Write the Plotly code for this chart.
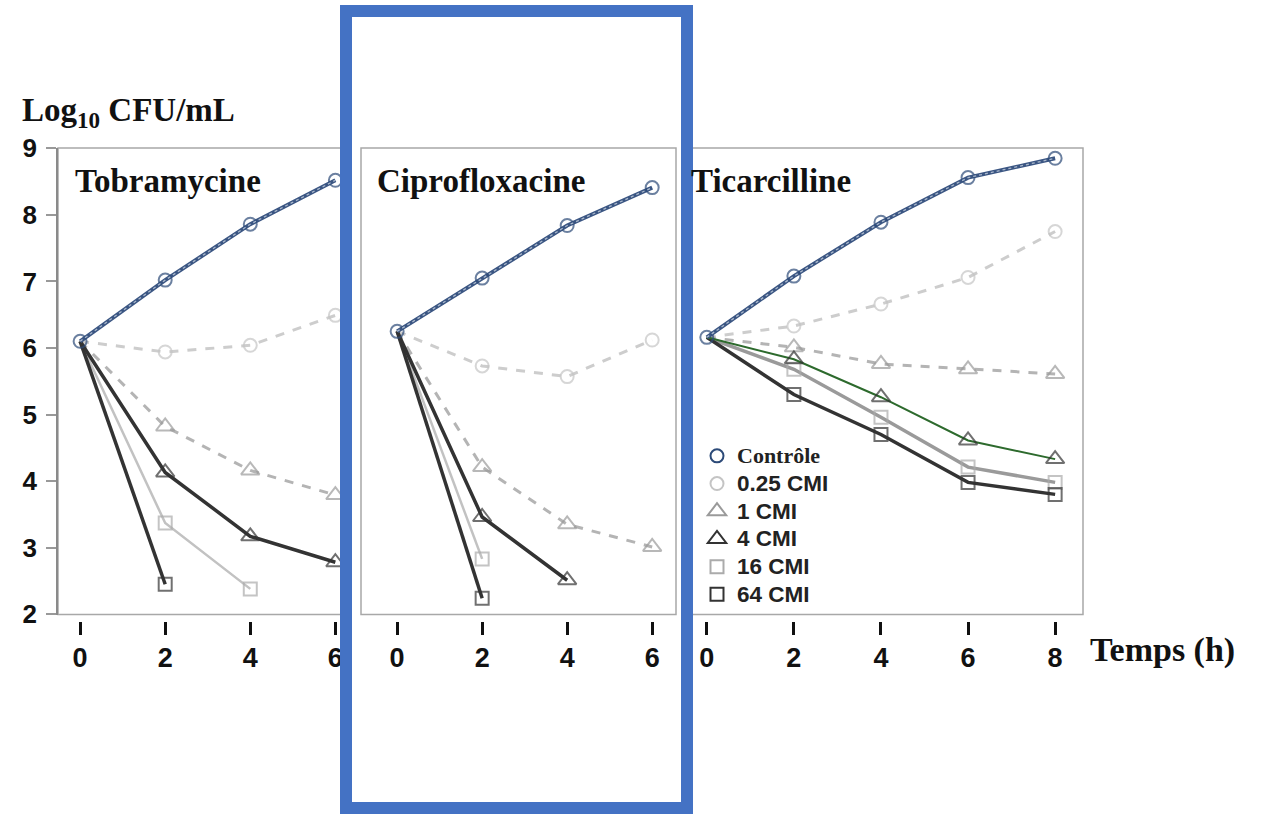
import plotly.graph_objects as go

W, H = 1263, 814

# ---------------- data ----------------
series_names = ["Contrôle", "0.25 CMI", "1 CMI", "4 CMI", "16 CMI", "64 CMI"]
panel_titles = ["Tobramycine", "Ciprofloxacine", "Ticarcilline"]

tobra_t = [0, 2, 4, 6]
tobra = {
    "Contrôle": [6.10, 7.02, 7.86, 8.52],
    "0.25 CMI": [6.10, 5.94, 6.04, 6.49],
    "1 CMI":    [6.10, 4.82, 4.16, 3.79],
    "4 CMI":    [6.10, 4.13, 3.17, 2.78],
    "16 CMI":   [6.10, 3.37, 2.38],
    "64 CMI":   [6.10, 2.45],
}

cipro_t = [0, 2, 4, 6]
cipro = {
    "Contrôle": [6.25, 7.05, 7.84, 8.41],
    "0.25 CMI": [6.25, 5.73, 5.57, 6.12],
    "1 CMI":    [6.25, 4.21, 3.35, 3.01],
    "4 CMI":    [6.25, 3.46, 2.51],
    "16 CMI":   [6.25, 2.83],
    "64 CMI":   [6.25, 2.24],
}

ticar_t = [0, 2, 4, 6, 8]
ticar = {
    "Contrôle": [6.16, 7.08, 7.89, 8.56, 8.85],
    "0.25 CMI": [6.16, 6.33, 6.66, 7.06, 7.75],
    "1 CMI":    [6.16, 6.01, 5.76, 5.68, 5.61],
    "4 CMI":    [6.16, 5.83, 5.26, 4.61, 4.33],
    "16 CMI":   [6.16, 5.68, 4.96, 4.21, 3.98],
    "64 CMI":   [6.16, 5.30, 4.70, 3.98, 3.80],
}

y_ticks = [2, 3, 4, 5, 6, 7, 8, 9]
x_ticks_short = [0, 2, 4, 6]
x_ticks_long = [0, 2, 4, 6, 8]

# ---------------- styles ----------------
base_style = {
    "Contrôle": dict(lc="#3b5683", lw=4, dash="solid", sym="circle-open", mc="#2c4a78", ms=13),
    "0.25 CMI": dict(lc="#cdcdcd", lw=3, dash="dash", sym="circle-open", mc="#c4c4c4", ms=13),
    "1 CMI":    dict(lc="#b4b4b4", lw=3, dash="dash", sym="triangle-up-open", mc="#9a9a9a", ms=16),
    "4 CMI":    dict(lc="#333333", lw=3.5, dash="solid", sym="triangle-up-open", mc="#333333", ms=16),
    "16 CMI":   dict(lc="#c2c2c2", lw=2.5, dash="solid", sym="square-open", mc="#ababab", ms=13),
    "64 CMI":   dict(lc="#333333", lw=3.5, dash="solid", sym="square-open", mc="#333333", ms=13),
}
ticar_over = {
    "4 CMI": dict(lc="#2d6a2d", lw=2),
    "16 CMI": dict(lc="#9a9a9a", lw=3.5),
}

def px_x(p):
    return p / W

def px_y(p):
    return 1 - p / H

ydom = [px_y(614.5), px_y(148)]
yrange = [1.995, 9.005]

panels = [
    dict(t=tobra_t, d=tobra, xa="x", ya="y", dom=[px_x(58), px_x(346)], rng=[-0.52, 6.25], ticks=x_ticks_short, over={}),
    dict(t=cipro_t, d=cipro, xa="x2", ya="y2", dom=[px_x(361), px_x(676)], rng=[-0.85, 6.56], ticks=x_ticks_short, over={}),
    dict(t=ticar_t, d=ticar, xa="x3", ya="y3", dom=[px_x(692), px_x(1083)], rng=[-0.34, 8.64], ticks=x_ticks_long, over=ticar_over),
]

fig = go.Figure()

draw_order = ["0.25 CMI", "1 CMI", "16 CMI", "64 CMI", "4 CMI", "Contrôle"]
for p in panels:
    for name in draw_order:
        vals = p["d"][name]
        st = dict(base_style[name])
        st.update(p["over"].get(name, {}))
        n = len(vals)
        sizes = [st["ms"]] * n
        if name != "Contrôle":
            sizes[0] = 0
        fig.add_trace(go.Scatter(
            x=p["t"][:n], y=vals, mode="lines+markers",
            xaxis=p["xa"], yaxis=p["ya"], showlegend=False,
            line=dict(color=st["lc"], width=st["lw"], dash=st["dash"]),
            marker=dict(symbol=st["sym"], size=sizes, color=st["mc"],
                        line=dict(color=st["mc"], width=2)),
            hoverinfo="skip",
        ))
        if name == "Contrôle":
            # light dotted core giving the textured double-line look
            fig.add_trace(go.Scatter(
                x=p["t"][:n], y=vals, mode="lines",
                xaxis=p["xa"], yaxis=p["ya"], showlegend=False,
                line=dict(color="#aab8cc", width=1.3, dash="dot"),
                hoverinfo="skip",
            ))

# legend entries (marker only)
for name in series_names:
    st = base_style[name]
    if name == "Contrôle":
        label = ('<span style="font-family:\'Liberation Serif\', \'Times New Roman\', serif;'
                 'font-size:22px"><b>Contrôle</b></span>')
    else:
        label = f'<span style="font-size:22.5px"><b>{name}</b></span>'
    fig.add_trace(go.Scatter(
        x=[None], y=[None], mode="markers", xaxis="x3", yaxis="y3",
        name=label,
        marker=dict(symbol=st["sym"], size=st["ms"], color=st["mc"],
                    line=dict(color=st["mc"], width=2)),
    ))

tick_font = dict(family="Liberation Sans, Arial, sans-serif", size=27, color="#111")
layout = dict(
    width=W, height=H, margin=dict(l=0, r=0, t=0, b=0, autoexpand=False),
    paper_bgcolor="white", plot_bgcolor="white",
    showlegend=True,
    legend=dict(x=px_x(697), y=px_y(437), xanchor="left", yanchor="top",
                bgcolor="rgba(0,0,0,0)", borderwidth=0,
                font=dict(family="Liberation Sans, Arial, sans-serif", size=19, color="#222"),
                itemwidth=30, tracegroupgap=0),
)

for i, p in enumerate(panels):
    sfx = "" if i == 0 else str(i + 1)
    layout["xaxis" + sfx] = dict(
        domain=p["dom"], range=p["rng"], anchor="free", position=px_y(621),
        showline=False, showgrid=False, zeroline=False, automargin=False,
        tickmode="array", tickvals=p["ticks"], ticktext=[f"<b>{v}</b>" for v in p["ticks"]],
        ticks="outside", ticklen=13, tickwidth=3, tickcolor="#111",
        tickfont=tick_font, ticklabelstandoff=0,
    )
    layout["yaxis" + sfx] = dict(
        domain=ydom, range=yrange, anchor=p["xa"], automargin=False,
        showgrid=False, zeroline=False,
        showline=(i == 0), linecolor="#8a8a8a", linewidth=1.5,
        tickmode="array", tickvals=y_ticks,
        ticktext=[f"<b>{v}</b>" for v in y_ticks],
        ticks="outside" if i == 0 else "", ticklen=10, tickwidth=1.5, tickcolor="#999",
        showticklabels=(i == 0),
        tickfont=dict(family="Liberation Sans, Arial, sans-serif", size=26, color="#111"),
        ticklabelstandoff=4,
    )

fig.update_layout(**layout)

# panel frames
for p in panels:
    fig.add_shape(type="rect", xref=p["xa"] + " domain", yref=p["ya"] + " domain",
                  x0=0, x1=1, y0=0, y1=1, line=dict(color="#a8a8a8", width=1.5),
                  fillcolor="rgba(0,0,0,0)", layer="below")

serif = "Liberation Serif, Times New Roman, serif"
ann = [
    dict(text="<b>Log<sub>10</sub> CFU/mL</b>", x=px_x(20), y=px_y(113), size=33),
    dict(text="<b>Temps (h)</b>", x=px_x(1088), y=px_y(650), size=34),
]
title_x = [73, 375, 689]
for t, xp in zip(panel_titles, title_x):
    ann.append(dict(text=f"<b>{t}</b>", x=px_x(xp), y=px_y(181), size=33))
for a in ann:
    fig.add_annotation(text=a["text"], x=a["x"], y=a["y"], xref="paper", yref="paper",
                       xanchor="left", yanchor="middle", showarrow=False,
                       font=dict(family=serif, size=a["size"], color="#111"))

# blue highlight rectangle
x0, x1 = px_x(346), px_x(687)
y0, y1 = px_y(808), px_y(11)
fig.add_shape(type="rect", xref="paper", yref="paper", x0=x0, x1=x1, y0=y0, y1=y1,
              line=dict(color="#4472c4", width=12), fillcolor="rgba(0,0,0,0)", layer="above")

fig.write_html("out.html")
